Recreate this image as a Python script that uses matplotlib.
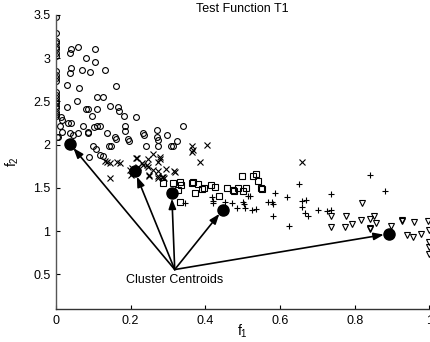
import matplotlib
matplotlib.use("Agg")
import matplotlib.pyplot as plt
import numpy as np

plt.rcParams['font.family'] = ['Liberation Sans', 'DejaVu Sans']
plt.rcParams['mathtext.default'] = 'regular'

# Cluster 1 (circles)
c1_f1 = [0, 0, 0, 0, 0, 0, 0, 0, 0, 0, 0, 0, 0, 0, 0, 0, 0, 0, 0, 0, 0, 0,
         0.040, 0.037, 0.059, 0.104, 0.080, 0.104, 0.040, 0.037, 0.070, 0.091, 0.131, 0.029,
         0.061, 0.160, 0.056, 0.110, 0.126, 0.029, 0.080, 0.086, 0.110, 0.096, 0.144, 0.166,
         0.168, 0.182, 0.214, 0.013, 0.016, 0.032, 0.040, 0.011, 0.072, 0.086, 0.102, 0.110,
         0.118, 0.184, 0.184, 0.340, 0.016, 0.005, 0.003, 0.037, 0.045, 0.059, 0.086, 0.136,
         0.158, 0.193, 0.195, 0.233, 0.235, 0.270, 0.270, 0.273, 0.297, 0.324, 0.313, 0.307,
         0.160, 0.099, 0.107, 0.142, 0.147, 0.241, 0.273, 0.088, 0.118, 0.126]
c1_f2 = [3.48, 3.29, 3.20, 3.17, 3.13, 3.10, 3.06, 3.02, 2.85, 2.81, 2.77, 2.73, 2.61, 2.57,
         2.54, 2.51, 2.48, 2.45, 2.42, 2.38, 2.35, 2.33,
         3.10, 3.06, 3.13, 3.11, 3.00, 2.95, 2.89, 2.83, 2.86, 2.84, 2.86, 2.69,
         2.65, 2.68, 2.51, 2.55, 2.55, 2.43, 2.41, 2.41, 2.41, 2.33, 2.45, 2.44,
         2.39, 2.33, 2.32, 2.32, 2.29, 2.25, 2.25, 2.22, 2.21, 2.15, 2.20, 2.21,
         2.22, 2.21, 2.16, 2.21, 2.15, 2.09, 2.09, 2.13, 2.11, 2.13, 2.14, 2.14,
         2.09, 2.06, 2.04, 2.14, 2.11, 2.17, 2.09, 2.05, 2.11, 2.04, 1.99, 1.98,
         2.07, 1.98, 1.95, 1.98, 1.98, 1.99, 1.99, 1.86, 1.88, 1.87]

# Cluster 2 (x)
c2_f1 = [0.136, 0.144, 0.163, 0.171, 0.131, 0.144, 0.198, 0.203, 0.206, 0.201, 0.214, 0.217,
         0.219, 0.230, 0.233, 0.243, 0.246, 0.246, 0.249, 0.249, 0.259, 0.259, 0.273, 0.273,
         0.273, 0.273, 0.278, 0.278, 0.283, 0.286, 0.289, 0.294, 0.316, 0.318, 0.364, 0.366,
         0.364, 0.385, 0.404, 0.658]
c2_f2 = [1.80, 1.79, 1.80, 1.79, 1.81, 1.61, 1.71, 1.73, 1.68, 1.65, 1.85, 1.85,
         1.74, 1.79, 1.76, 1.77, 1.83, 1.74, 1.65, 1.64, 1.89, 1.71, 1.80, 1.70,
         1.64, 1.62, 1.86, 1.83, 1.63, 1.63, 1.62, 1.72, 1.69, 1.68, 1.98, 1.94,
         1.92, 1.80, 2.00, 1.80]

# Cluster 3 (squares)
c3_f1 = [0.286, 0.313, 0.332, 0.334, 0.326, 0.364, 0.366, 0.380, 0.390, 0.372, 0.332, 0.396,
         0.414, 0.425, 0.436, 0.457, 0.473, 0.476, 0.487, 0.500, 0.508, 0.497, 0.527, 0.535,
         0.540, 0.548, 0.551]
c3_f2 = [1.56, 1.56, 1.57, 1.53, 1.47, 1.56, 1.57, 1.54, 1.49, 1.44, 1.34, 1.50,
         1.53, 1.51, 1.41, 1.50, 1.48, 1.46, 1.50, 1.46, 1.50, 1.64, 1.64, 1.66,
         1.58, 1.50, 1.49]

# Cluster 4 (plus)
c4_f1 = [0.345, 0.420, 0.417, 0.420, 0.452, 0.471, 0.484, 0.500, 0.503, 0.505, 0.513, 0.519,
         0.524, 0.537, 0.580, 0.567, 0.578, 0.580, 0.586, 0.620, 0.650, 0.658, 0.671, 0.660,
         0.666, 0.674, 0.701, 0.725, 0.738, 0.738, 0.842, 0.882, 0.623]
c4_f2 = [1.32, 1.35, 1.39, 1.33, 1.34, 1.32, 1.27, 1.34, 1.31, 1.27, 1.41, 1.41,
         1.24, 1.26, 1.17, 1.34, 1.34, 1.31, 1.44, 1.40, 1.55, 1.35, 1.36, 1.28,
         1.21, 1.17, 1.24, 1.23, 1.24, 1.43, 1.65, 1.46, 1.06]

# Cluster 5 (down triangles)
c5_f1 = [0.821, 0.738, 0.778, 0.816, 0.840, 0.853, 0.738, 0.775, 0.794, 0.840, 0.858, 0.842,
         0.898, 0.928, 0.928, 0.960, 0.997, 0.939, 0.957, 0.979, 1.0, 1.0, 1.0, 1.0]
c5_f2 = [1.33, 1.17, 1.17, 1.13, 1.14, 1.17, 1.05, 1.05, 1.08, 1.04, 1.09, 1.02,
         1.06, 1.12, 1.13, 1.10, 1.12, 0.95, 0.93, 0.97, 1.01, 0.87, 0.82, 0.73]

# Centroids
cen_f1 = [0.037, 0.211, 0.310, 0.447, 0.893]
cen_f2 = [2.01, 1.69, 1.44, 1.25, 0.97]

arrow_origin = (0.318, 0.556)
label_text = "Cluster Centroids"
label_pos = (0.318, 0.43)

fig = plt.figure(figsize=(4.31, 3.42), dpi=100)
ax = fig.add_axes([0.130, 0.0965, 0.866, 0.86])

ms = 4.2
mew = 0.8
ax.plot(c1_f1, c1_f2, 'o', mfc='none', mec='k', ms=ms, mew=mew)
ax.plot(c2_f1, c2_f2, 'x', mec='k', ms=ms, mew=mew)
ax.plot(c3_f1, c3_f2, 's', mfc='none', mec='k', ms=ms - 0.4, mew=mew)
ax.plot(c4_f1, c4_f2, '+', mec='k', ms=ms + 0.5, mew=mew)
ax.plot(c5_f1, c5_f2, 'v', mfc='none', mec='k', ms=ms + 0.5, mew=mew)
ax.plot(cen_f1, cen_f2, 'o', color='k', ms=8, zorder=5)

for x, y in zip(cen_f1, cen_f2):
    ax.annotate('', xy=(x, y), xytext=arrow_origin,
                arrowprops=dict(arrowstyle='-|>,head_length=0.6,head_width=0.22',
                                color='k', lw=1.2, shrinkA=0, shrinkB=4))

ax.text(label_pos[0], label_pos[1], label_text, ha='center', va='center', fontsize=9)

ax.set_xlim(0, 1)
ax.set_ylim(0.1, 3.5)
ax.set_xticks([0, 0.2, 0.4, 0.6, 0.8, 1])
ax.set_xticklabels(['0', '0.2', '0.4', '0.6', '0.8', '1'])
ax.set_yticks([0.5, 1, 1.5, 2, 2.5, 3, 3.5])
ax.set_yticklabels(['0.5', '1', '1.5', '2', '2.5', '3', '3.5'])
ax.tick_params(direction='in', length=3, width=0.8, labelsize=9, pad=4)
for s in ['top', 'right']:
    ax.spines[s].set_visible(False)
ax.spines['left'].set_color('#555555')
ax.spines['bottom'].set_color('#333333')
ax.spines['left'].set_linewidth(1.0)
ax.spines['bottom'].set_linewidth(1.0)

ax.set_title('Test Function T1', fontsize=9, pad=2)
ax.set_xlabel('$f_1$', fontsize=10)
ax.set_ylabel('$f_2$', fontsize=10)
ax.xaxis.set_label_coords(0.5, -0.045)
ax.yaxis.set_label_coords(-0.095, 0.5)

fig.savefig('out.png', dpi=100)
